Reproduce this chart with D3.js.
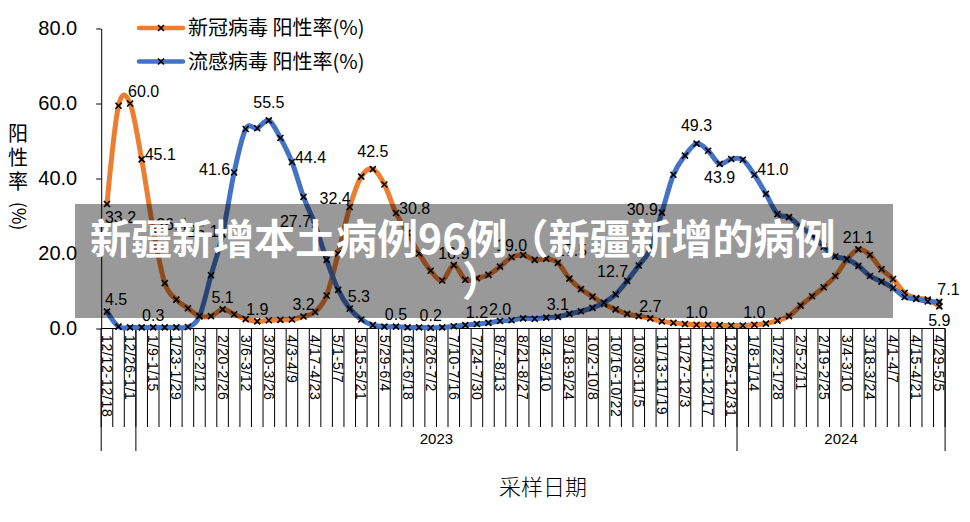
<!DOCTYPE html>
<html><head><meta charset="utf-8">
<script src="https://cdn.jsdelivr.net/npm/d3@7/dist/d3.min.js"></script>
<style>
html,body{margin:0;padding:0;background:#fff;}
svg{display:block;}
</style></head>
<body>
<script>
// ---------- data ----------
const categories = [
"12/12-12/18","12/19-12/25","12/26-1/1","1/2-1/8","1/9-1/15","1/16-1/22","1/23-1/29","1/30-2/5",
"2/6-2/12","2/13-2/19","2/20-2/26","2/27-3/5","3/6-3/12","3/13-3/19","3/20-3/26","3/27-4/2",
"4/3-4/9","4/10-4/16","4/17-4/23","4/24-4/30","5/1-5/7","5/8-5/14","5/15-5/21","5/22-5/28",
"5/29-6/4","6/5-6/11","6/12-6/18","6/19-6/25","6/26-7/2","7/3-7/9","7/10-7/16","7/17-7/23",
"7/24-7/30","7/31-8/6","8/7-8/13","8/14-8/20","8/21-8/27","8/28-9/3","9/4-9/10","9/11-9/17",
"9/18-9/24","9/25-10/1","10/2-10/8","10/9-10/15","10/16-10/22","10/23-10/29","10/30-11/5","11/6-11/12",
"11/13-11/19","11/20-11/26","11/27-12/3","12/4-12/10","12/11-12/17","12/18-12/24","12/25-12/31","1/1-1/7",
"1/8-1/14","1/15-1/21","1/22-1/28","1/29-2/4","2/5-2/11","2/12-2/18","2/19-2/25","2/26-3/3",
"3/4-3/10","3/11-3/17","3/18-3/24","3/25-3/31","4/1-4/7","4/8-4/14","4/15-4/21","4/22-4/28","4/29-5/5"];

const yearLabels = ["", "2023", "2024"];
const yearFirstCategory = [0, 3, 55];

const covidRate = [
33.2,59.4,60.0,45.1,26.4,12.1,7.7,5.4,3.3,3.3,
5.1,3.8,2.5,1.9,2.2,2.3,2.4,3.2,4.4,8.8,
20.0,32.4,40.5,42.5,38.4,30.8,25.5,20.0,15.4,12.8,
16.9,13.0,13.4,14.3,16.5,19.0,19.6,18.3,18.6,17.5,
13.3,10.5,8.5,6.5,5.1,3.9,3.3,2.7,1.9,1.5,
1.2,1.0,1.0,0.9,0.8,0.8,1.0,1.3,2.1,3.3,
6.1,8.6,11.0,14.0,18.3,21.1,19.6,15.8,13.2,9.5,
8.1,7.7,5.9];

const fluRate = [
4.5,0.5,0.3,0.3,0.3,0.3,0.3,0.4,3.3,14.2,
25.1,41.6,53.2,53.4,55.5,50.8,44.4,35.1,27.7,18.3,
10.3,5.3,2.4,0.9,0.5,0.5,0.3,0.3,0.2,0.3,
0.6,0.9,1.2,1.5,2.0,2.2,2.7,2.6,2.9,3.1,
3.9,4.6,5.5,6.9,9.1,12.7,16.8,21.2,30.9,41.0,
46.1,49.3,47.4,43.9,45.2,45.0,41.0,35.9,30.5,29.7,
27.1,24.9,21.8,19.2,18.5,16.7,14.0,12.5,10.8,8.4,
7.9,7.2,7.1];

const yTicks = [0, 20, 40, 60, 80];
const seriesNames = ["新冠病毒 阳性率(%)", "流感病毒 阳性率(%)"];

// labelled points: index + placement keyword
const covidLabels = [[0,"br"],[2,"tr"],[3,"r"],[4,"r"],[10,"t"],[13,"t"],[17,"t"],[21,"tl"],[23,"tt"],
  [25,"r"],[30,"t"],[35,"t"],[39,"tr"],[47,"t"],[51,"t"],[56,"t"],[65,"t"],[72,"b"]];
const fluLabels = [[0,"tr"],[4,"t"],[10,"l"],[11,"l"],[14,"tt"],[16,"r"],[18,"l"],[21,"tr"],[25,"t"],
  [28,"t"],[32,"t"],[34,"t"],[39,"t"],[45,"tl"],[48,"l"],[51,"tt"],[53,"b"],[56,"r"],[72,"tr"]];

const bannerLine1 = "新疆新增本土病例96例（新疆新增的病例";
const bannerLine2 = "）";

// ---------- drawing ----------
const W = 970, H = 522;
const svg = d3.select("body").append("svg").attr("width", W).attr("height", H);
const latin = "'Liberation Sans', Arial, sans-serif";
const cjk = "'Noto Sans CJK SC', 'Noto Sans', sans-serif";

const x = d3.scaleBand().domain(d3.range(categories.length)).range([101.2, 945.1]).padding(0);
const bw = x.bandwidth();
const cx = i => x(i) + bw / 2;
const y = d3.scaleLinear().domain([0, 80]).range([328.5, 28.5]);

// y axis
const yAxis = svg.append("g").attr("transform", "translate(101.2,0)")
  .call(d3.axisLeft(y).tickValues(yTicks).tickFormat(d3.format(".1f")).tickSize(5).tickSizeOuter(0).tickPadding(19));
yAxis.selectAll("path,line").attr("stroke", "#000");
yAxis.selectAll("text").attr("font-family", latin).attr("font-size", 20).attr("fill", "#000");

// x axis line
const xg = svg.append("g");
xg.append("line").attr("x1", x.range()[0]).attr("x2", x.range()[1]).attr("y1", y(0)).attr("y2", y(0)).attr("stroke", "#000");
// category separators
const bounds = d3.range(categories.length + 1).map(i => i < categories.length ? x(i) : x.range()[1]);
xg.selectAll("line.cat").data(bounds).join("line").attr("class", "cat")
  .attr("x1", d => d).attr("x2", d => d).attr("y1", y(0)).attr("y2", 427)
  .attr("stroke", "#000").attr("stroke-width", 1);
// group separators
const groupBounds = yearFirstCategory.map(i => x(i)).concat([x.range()[1]]);
xg.selectAll("line.grp").data(groupBounds).join("line").attr("class", "grp")
  .attr("x1", d => d).attr("x2", d => d).attr("y1", y(0)).attr("y2", 451)
  .attr("stroke", "#000").attr("stroke-width", 1);
// category labels (every other)
xg.selectAll("text.cat").data(categories.map((c, i) => ({c, i})).filter(d => d.i % 2 === 0)).join("text")
  .attr("class", "cat")
  .attr("transform", d => `translate(${cx(d.i)},335) rotate(90)`)
  .attr("dy", "0.35em")
  .attr("font-family", latin).attr("font-size", 14).attr("letter-spacing", "0.7px")
  .attr("fill", "#000").text(d => d.c);
// year labels
yearLabels.forEach((lab, k) => {
  const a = groupBounds[k], b = groupBounds[k + 1];
  xg.append("text").attr("x", (a + b) / 2).attr("y", 439).attr("dy", "0.35em")
    .attr("text-anchor", "middle").attr("font-family", latin).attr("font-size", 15).attr("fill", "#000").text(lab);
});

// axis titles
svg.append("text").attr("x", 543).attr("y", 487).attr("dy", "0.35em").attr("text-anchor", "middle")
  .attr("font-family", cjk).attr("font-size", 22).attr("font-weight", 300).attr("fill", "#000").text("采样日期");
const yt = svg.append("g").attr("font-family", cjk).attr("font-size", 20).attr("fill", "#000");
["阳", "性", "率"].forEach((ch, k) => {
  yt.append("text").attr("x", 18).attr("y", 134 + k * 24).attr("dy", "0.35em").attr("text-anchor", "middle").text(ch);
});
yt.append("text").attr("transform", "translate(18,216) rotate(90)").attr("dy", "0.35em")
  .attr("text-anchor", "middle").attr("font-size", 18).text("(%)");

// series
const colors = ["#ED7D31", "#4472C4"];
const seriesData = [covidRate, fluRate];
const line = d3.line().x((d, i) => cx(i)).y(d => y(d)).curve(d3.curveCardinal.tension(0));
const cross = "M-3,-3L3,3M-3,3L3,-3";
seriesData.forEach((vals, s) => {
  const g = svg.append("g");
  g.append("path").attr("d", line(vals)).attr("fill", "none").attr("stroke", colors[s])
    .attr("stroke-width", 5).attr("stroke-linejoin", "round").attr("stroke-linecap", "round");
  g.selectAll("path.m").data(vals).join("path").attr("class", "m")
    .attr("transform", (d, i) => `translate(${cx(i)},${y(d)})`)
    .attr("d", cross).attr("stroke", "#000").attr("stroke-width", 1.6).attr("fill", "none");
});

// data labels
const place = {
  t:  {dx: 0, dy: -12, a: "middle"},
  tt: {dx: 0, dy: -18, a: "middle"},
  b:  {dx: 0, dy: 14, a: "middle"},
  r:  {dx: 3, dy: -5, a: "start"},
  l:  {dx: -4, dy: -3, a: "end"},
  tr: {dx: -2, dy: -12, a: "start"},
  tl: {dx: 1, dy: -9, a: "end"},
  br: {dx: -2, dy: 13, a: "start"}
};
[[covidRate, covidLabels], [fluRate, fluLabels]].forEach(([vals, labs]) => {
  svg.append("g").selectAll("text").data(labs).join("text")
    .attr("x", d => cx(d[0]) + place[d[1]].dx)
    .attr("y", d => y(vals[d[0]]) + place[d[1]].dy)
    .attr("dy", "0.35em").attr("text-anchor", d => place[d[1]].a)
    .attr("font-family", latin).attr("font-size", 16).attr("fill", "#000")
    .text(d => vals[d[0]].toFixed(1));
});

// legend
seriesNames.forEach((name, s) => {
  const ly = 28 + s * 33.5;
  const g = svg.append("g");
  g.append("line").attr("x1", 139).attr("x2", 183).attr("y1", ly).attr("y2", ly)
    .attr("stroke", colors[s]).attr("stroke-width", 4.5).attr("stroke-linecap", "round");
  g.append("path").attr("transform", `translate(161,${ly})`).attr("d", cross).attr("stroke", "#000").attr("stroke-width", 1.6);
  g.append("text").attr("x", 188).attr("y", ly).attr("dy", "0.35em").attr("font-family", cjk)
    .attr("font-size", 20).attr("fill", "#000").text(name);
});

// overlay banner
svg.append("rect").attr("x", 75).attr("y", 204).attr("width", 818).attr("height", 114)
  .attr("fill", "#000").attr("fill-opacity", 0.4);
const bt = svg.append("g").attr("font-family", cjk).attr("font-size", 41).attr("font-weight", 700).attr("fill", "#fff");
bt.append("text").attr("x", 90).attr("y", 254).text(bannerLine1);
bt.append("text").attr("x", 462).attr("y", 296).text(bannerLine2);
</script>
</body></html>
